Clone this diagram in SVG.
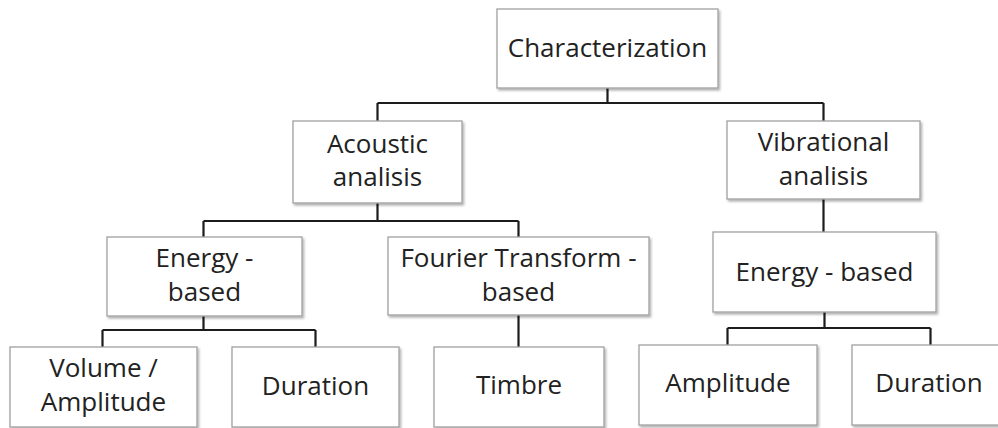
<svg xmlns="http://www.w3.org/2000/svg" width="998" height="428" viewBox="0 0 998 428">
<defs>
<filter id="sh" x="-10%" y="-10%" width="130%" height="130%">
<feDropShadow dx="1.5" dy="2" stdDeviation="1.2" flood-color="#000" flood-opacity="0.3"/>
</filter>
</defs>
<style>
.box{fill:#fff;stroke:#a0a0a0;stroke-width:1.3;filter:url(#sh)}
.t{font-family:"Open Sans","Noto Sans",sans-serif;font-size:26px;fill:#222;text-anchor:middle}
.c{fill:none;stroke:#1c1c1c;stroke-width:2.2}
</style>
<rect width="998" height="428" fill="#fff"/>
<g id="connectors">
<path class="c" d="M607.5,88 V103 M377.5,103 H823.5 M377.5,103 V121 M823.5,103 V121"/>
<path class="c" d="M377.5,203 V221 M203.5,221 H518.5 M203.5,221 V237 M518.5,221 V237"/>
<path class="c" d="M823.5,199 V232"/>
<path class="c" d="M203.5,316 V330 M102.5,330 H315.5 M102.5,330 V347 M315.5,330 V347"/>
<path class="c" d="M518.5,315 V347"/>
<path class="c" d="M824.5,312 V328 M727.5,328 H930.5 M727.5,328 V345 M930.5,328 V345"/>
</g>
<g id="characterization">
<rect class="box" x="497" y="9" width="221" height="79"/>
<text class="t" x="607.5" y="57">Characterization</text>
</g>
<g id="acoustic">
<rect class="box" x="293" y="121" width="169" height="82"/>
<text class="t" x="377.5" y="153">Acoustic<tspan x="377.5" y="186">analisis</tspan></text>
</g>
<g id="vibrational">
<rect class="box" x="727" y="121" width="193" height="78"/>
<text class="t" x="823.5" y="151">Vibrational<tspan x="823.5" y="184.5">analisis</tspan></text>
</g>
<g id="energy-acoustic">
<rect class="box" x="107" y="237" width="195" height="79"/>
<text class="t" x="204.5" y="267">Energy -<tspan x="204.5" y="300.5">based</tspan></text>
</g>
<g id="fourier">
<rect class="box" x="388" y="237" width="261" height="78"/>
<text class="t" x="518.5" y="267">Fourier Transform -<tspan x="518.5" y="300.5">based</tspan></text>
</g>
<g id="energy-vibrational">
<rect class="box" x="713" y="232" width="223" height="80"/>
<text class="t" x="824.5" y="281">Energy - based</text>
</g>
<g id="volume">
<rect class="box" x="10" y="347" width="187" height="80"/>
<text class="t" x="103.5" y="377">Volume /<tspan x="103.5" y="411">Amplitude</tspan></text>
</g>
<g id="duration-acoustic">
<rect class="box" x="232" y="347" width="167" height="80"/>
<text class="t" x="315.5" y="395">Duration</text>
</g>
<g id="timbre">
<rect class="box" x="434" y="347" width="170" height="80"/>
<text class="t" x="519" y="394">Timbre</text>
</g>
<g id="amplitude">
<rect class="box" x="639" y="345" width="178" height="80"/>
<text class="t" x="728" y="392">Amplitude</text>
</g>
<g id="duration-vibrational">
<rect class="box" x="852" y="345" width="156" height="80"/>
<text class="t" x="929" y="392">Duration</text>
</g>
</svg>
